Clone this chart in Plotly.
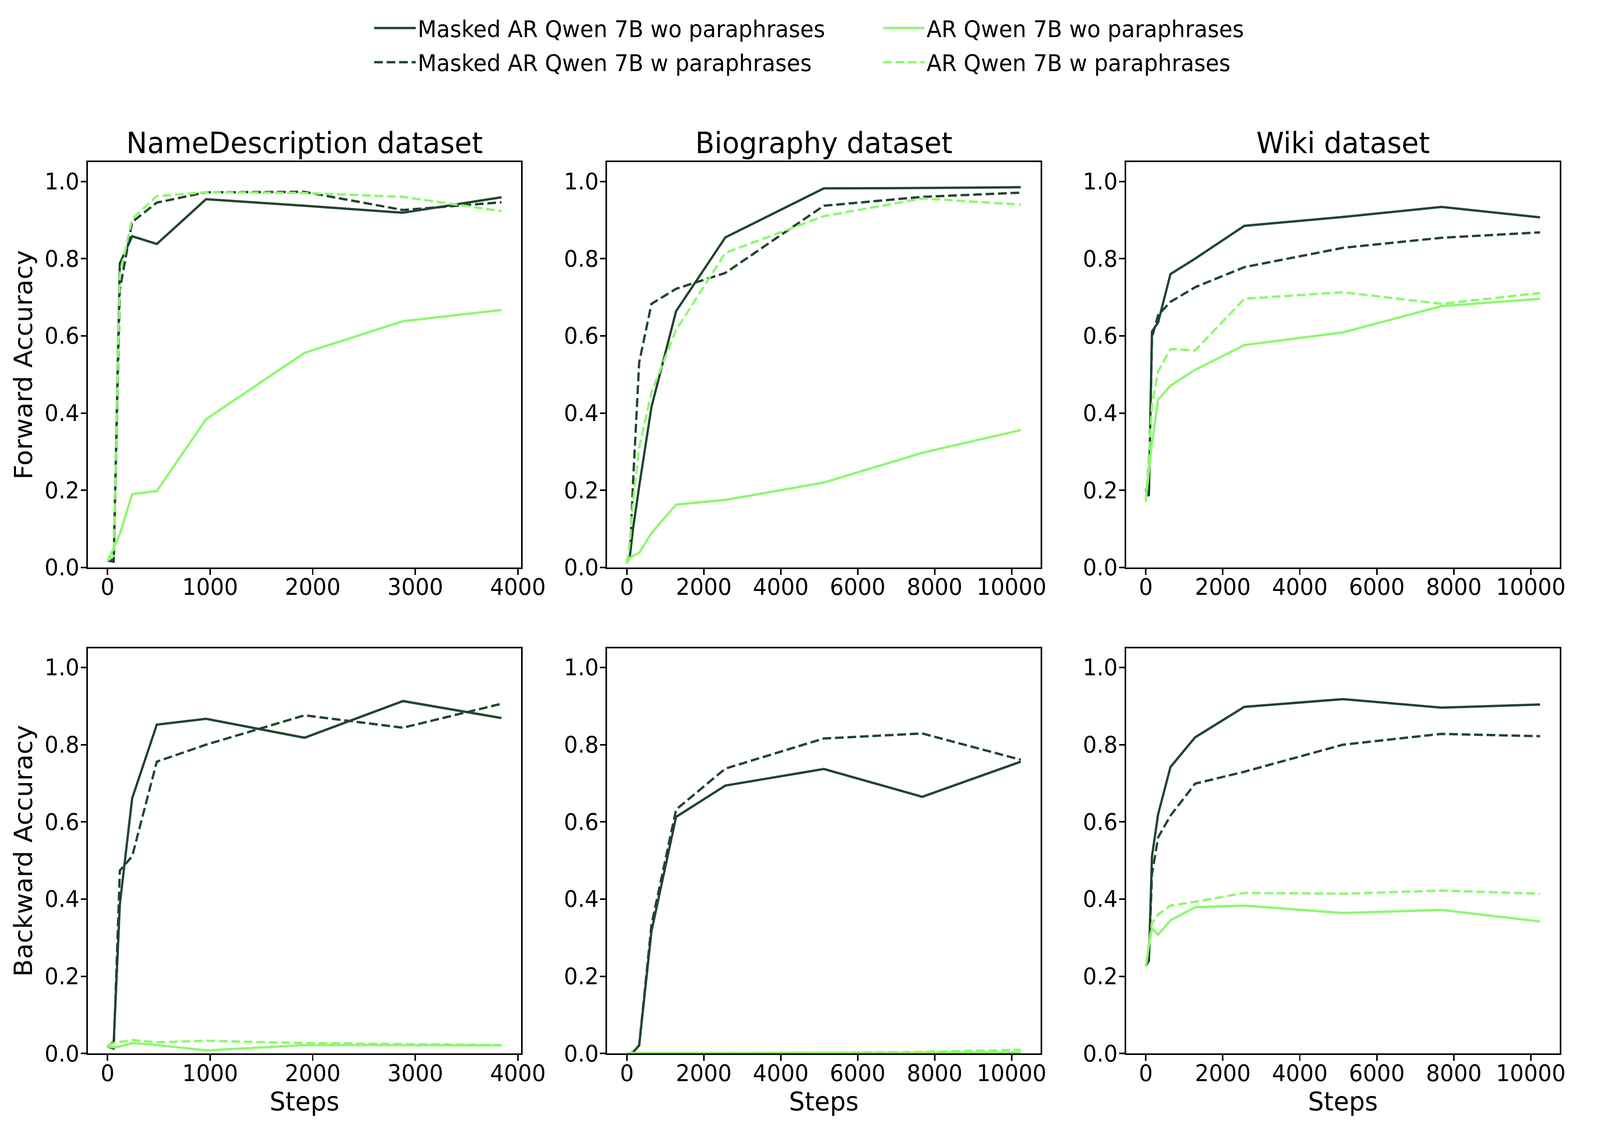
import plotly.graph_objects as go
from plotly.subplots import make_subplots

W, H = 4232, 2929

# ---------------- data ----------------
steps_nd = [0, 60, 120, 240, 480, 960, 1920, 2880, 3840]
steps_bio = [0, 80, 160, 320, 640, 1280, 2560, 5120, 7680, 10240]
steps_wiki = [0, 80, 160, 320, 640, 1280, 2560, 5120, 7680, 10240]

series_names = [
    "Masked AR Qwen 7B wo paraphrases",
    "Masked AR Qwen 7B w paraphrases",
    "AR Qwen 7B wo paraphrases",
    "AR Qwen 7B w paraphrases",
]
panel_titles = ["NameDescription dataset", "Biography dataset", "Wiki dataset"]
row_titles = ["Forward Accuracy", "Backward Accuracy"]
x_title = "Steps"
y_tick_vals = [0.0, 0.2, 0.4, 0.6, 0.8, 1.0]

# NameDescription - forward
nd_fwd_masked_wo = [0.018, 0.015, 0.788, 0.858, 0.838, 0.954, 0.937, 0.919, 0.959]
nd_fwd_masked_w = [0.019, 0.020, 0.720, 0.895, 0.945, 0.972, 0.973, 0.926, 0.946]
nd_fwd_ar_wo = [0.018, 0.050, 0.087, 0.190, 0.198, 0.384, 0.556, 0.638, 0.667]
nd_fwd_ar_w = [0.018, 0.030, 0.760, 0.903, 0.962, 0.972, 0.970, 0.960, 0.923]
# NameDescription - backward
nd_bwd_masked_wo = [0.018, 0.030, 0.387, 0.661, 0.852, 0.867, 0.818, 0.913, 0.869]
nd_bwd_masked_w = [0.018, 0.013, 0.474, 0.511, 0.756, 0.800, 0.876, 0.844, 0.906]
nd_bwd_ar_wo = [0.018, 0.016, 0.018, 0.027, 0.022, 0.008, 0.022, 0.021, 0.021]
nd_bwd_ar_w = [0.020, 0.027, 0.030, 0.035, 0.029, 0.033, 0.027, 0.024, 0.022]

# Biography - forward
bio_fwd_masked_wo = [0.018, 0.030, 0.100, 0.210, 0.416, 0.664, 0.855, 0.982, 0.983, 0.985]
bio_fwd_masked_w = [0.018, 0.030, 0.220, 0.531, 0.683, 0.722, 0.763, 0.937, 0.960, 0.971]
bio_fwd_ar_wo = [0.010, 0.025, 0.030, 0.038, 0.089, 0.163, 0.175, 0.220, 0.297, 0.356]
bio_fwd_ar_w = [0.010, 0.070, 0.170, 0.310, 0.454, 0.615, 0.815, 0.910, 0.956, 0.940]
# Biography - backward
bio_bwd_masked_wo = [0.000, 0.000, 0.003, 0.021, 0.317, 0.613, 0.694, 0.737, 0.665, 0.756]
bio_bwd_masked_w = [0.000, 0.000, 0.003, 0.021, 0.334, 0.632, 0.738, 0.816, 0.829, 0.761]
bio_bwd_ar_wo = [0.000, 0.001, 0.001, 0.001, 0.001, 0.001, 0.001, 0.002, 0.002, 0.003]
bio_bwd_ar_w = [0.000, 0.001, 0.001, 0.001, 0.001, 0.001, 0.001, 0.002, 0.004, 0.010]

# Wiki - forward
wiki_fwd_masked_wo = [0.205, 0.190, 0.611, 0.635, 0.760, 0.800, 0.885, 0.908, 0.934, 0.907]
wiki_fwd_masked_w = [0.200, 0.185, 0.596, 0.654, 0.688, 0.726, 0.778, 0.828, 0.854, 0.868]
wiki_fwd_ar_wo = [0.180, 0.250, 0.320, 0.435, 0.471, 0.512, 0.576, 0.609, 0.677, 0.696]
wiki_fwd_ar_w = [0.170, 0.290, 0.420, 0.508, 0.566, 0.562, 0.696, 0.713, 0.683, 0.711]
# Wiki - backward
wiki_bwd_masked_wo = [0.229, 0.243, 0.511, 0.620, 0.742, 0.819, 0.898, 0.918, 0.896, 0.904]
wiki_bwd_masked_w = [0.227, 0.240, 0.465, 0.560, 0.616, 0.699, 0.730, 0.800, 0.828, 0.822]
wiki_bwd_ar_wo = [0.225, 0.280, 0.324, 0.308, 0.345, 0.379, 0.383, 0.364, 0.372, 0.342]
wiki_bwd_ar_w = [0.227, 0.280, 0.338, 0.360, 0.383, 0.393, 0.416, 0.414, 0.422, 0.414]

# ---------------- styling ----------------
DARK = "#21452f"
LIGHT = "#8cf96d"
FONT = "DejaVu Sans"
LW = 6
DASH = "23px,10px"

styles = [
    dict(color=DARK, dash="solid", legend="legend"),
    dict(color=DARK, dash=DASH, legend="legend"),
    dict(color=LIGHT, dash="solid", legend="legend2"),
    dict(color=LIGHT, dash=DASH, legend="legend2"),
]

panels = [
    (1, 1, steps_nd, [nd_fwd_masked_wo, nd_fwd_masked_w, nd_fwd_ar_wo, nd_fwd_ar_w]),
    (1, 2, steps_bio, [bio_fwd_masked_wo, bio_fwd_masked_w, bio_fwd_ar_wo, bio_fwd_ar_w]),
    (1, 3, steps_wiki, [wiki_fwd_masked_wo, wiki_fwd_masked_w, wiki_fwd_ar_wo, wiki_fwd_ar_w]),
    (2, 1, steps_nd, [nd_bwd_masked_wo, nd_bwd_masked_w, nd_bwd_ar_wo, nd_bwd_ar_w]),
    (2, 2, steps_bio, [bio_bwd_masked_wo, bio_bwd_masked_w, bio_bwd_ar_wo, bio_bwd_ar_w]),
    (2, 3, steps_wiki, [wiki_bwd_masked_wo, wiki_bwd_masked_w, wiki_bwd_ar_wo, wiki_bwd_ar_w]),
]

fig = make_subplots(rows=2, cols=3)

for (r, c, xs, ys_list) in panels:
    for k in [0, 1, 2, 3]:
        st = styles[k]
        fig.add_trace(
            go.Scatter(
                x=xs, y=ys_list[k], mode="lines", name=series_names[k],
                line=dict(color=st["color"], width=LW, dash=st["dash"]),
                showlegend=(r == 1 and c == 1), legend=st["legend"],
                legendgroup="g%d" % k,
            ),
            row=r, col=c,
        )

col_px = [(236, 1400), (1631, 2795), (3025, 4190)]
row_px = [(420, 1470), (1679, 2729)]

axis_common = dict(
    showline=True, linecolor="black", linewidth=3.5, mirror=True,
    ticks="outside", ticklen=15, tickwidth=3.5, tickcolor="black",
    showgrid=False, zeroline=False,
    tickfont=dict(family=FONT, size=58, color="black"),
)

for i, (r, c, xs, _) in enumerate(panels):
    idx = i + 1
    x0, x1 = col_px[c - 1]
    y0, y1 = row_px[r - 1]
    xmax = max(xs)
    xd = dict(
        domain=[x0 / W, x1 / W],
        range=[-0.05 * xmax, 1.05 * xmax],
        dtick=1000 if xmax < 5000 else 2000, tick0=0, tickformat="d",
        anchor="y%d" % idx if idx > 1 else "y",
        ticklabelstandoff=-18,
        **axis_common,
    )
    yd = dict(
        domain=[1 - y1 / H, 1 - y0 / H],
        range=[0, 1.05], tickvals=y_tick_vals, tickformat=".1f",
        anchor="x%d" % idx if idx > 1 else "x",
        ticklabelstandoff=-8,
        **axis_common,
    )
    if r == 2:
        xd["title"] = dict(text=x_title, font=dict(family=FONT, size=66, color="black"), standoff=2)
    if c == 1:
        yd["title"] = dict(text=row_titles[r - 1], font=dict(family=FONT, size=66, color="black"), standoff=12)
    key = "" if idx == 1 else str(idx)
    fig.layout["xaxis" + key].update(xd)
    fig.layout["yaxis" + key].update(yd)

annotations = []
for c in range(3):
    x0, x1 = col_px[c]
    annotations.append(dict(
        text=panel_titles[c], x=(x0 + x1) / 2 / W, y=1 - 370 / H,
        xref="paper", yref="paper", xanchor="center", yanchor="middle",
        showarrow=False, font=dict(family=FONT, size=74, color="black"),
    ))

legend_common = dict(
    orientation="v", yanchor="top", xanchor="left",
    font=dict(family=FONT, size=58, color="black"),
    bgcolor="rgba(0,0,0,0)", itemwidth=110, tracegroupgap=9,
)

fig.update_layout(
    width=W, height=H,
    margin=dict(l=0, r=0, t=0, b=0),
    paper_bgcolor="white", plot_bgcolor="white",
    font=dict(family=FONT, color="black"),
    annotations=annotations,
    legend=dict(x=1000 / W, y=1 - 28 / H, **legend_common),
    legend2=dict(x=2367 / W, y=1 - 28 / H, **legend_common),
)

# map the fixed 4232x2929 figure exactly onto the browser viewport (no page margin / scrollbars)
fit_js = """
var gd = document.getElementById('{plot_id}');
document.documentElement.style.margin = '0';
document.body.style.margin = '0';
document.body.style.overflow = 'hidden';
var sx = window.innerWidth / 4232, sy = window.innerHeight / 2929;
gd.style.transformOrigin = '0 0';
gd.style.transform = 'scale(' + sx + ',' + sy + ')';
"""

fig.write_html("out.html", post_script=fit_js, config={"displayModeBar": False})
